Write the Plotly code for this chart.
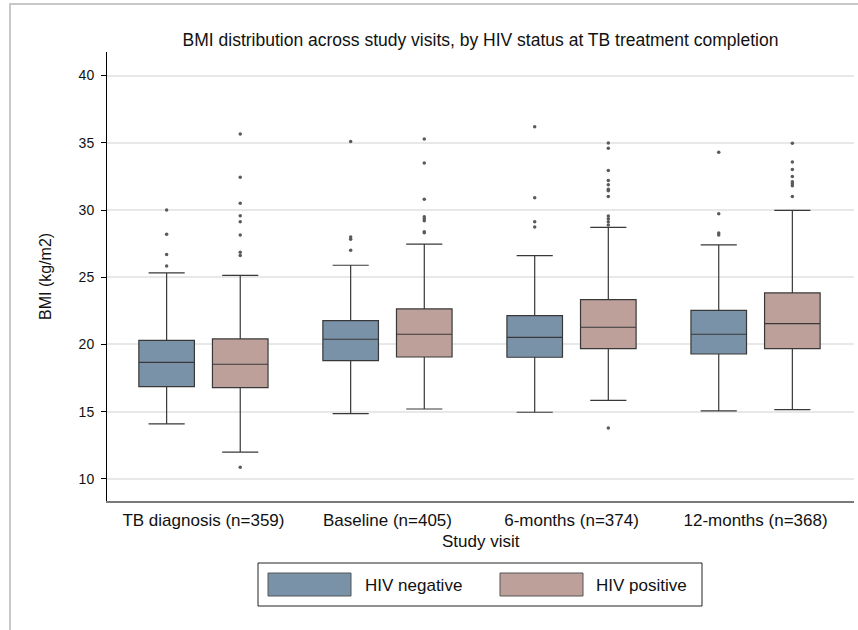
import plotly.graph_objects as go

# Study visits (x categories)
visits = ["TB diagnosis (n=359)", "Baseline (n=405)", "6-months (n=374)", "12-months (n=368)"]

# HIV negative: box summary statistics per visit (BMI, kg/m2)
neg_lower = [14.09, 14.86, 14.96, 15.06]
neg_q1 = [16.86, 18.80, 19.05, 19.29]
neg_median = [18.67, 20.39, 20.53, 20.76]
neg_q3 = [20.31, 21.77, 22.14, 22.54]
neg_upper = [25.32, 25.89, 26.60, 27.40]
neg_outliers = [
    [30.0, 28.19, 26.7, 25.84],
    [35.1, 28.0, 27.82, 27.0],
    [36.2, 30.92, 29.13, 28.74],
    [34.29, 29.73, 28.29, 28.14],
]

# HIV positive: box summary statistics per visit (BMI, kg/m2)
pos_lower = [12.0, 15.2, 15.85, 15.15]
pos_q1 = [16.79, 19.07, 19.69, 19.69]
pos_median = [18.53, 20.76, 21.28, 21.55]
pos_q3 = [20.41, 22.64, 23.34, 23.83]
pos_upper = [25.14, 27.47, 28.71, 29.97]
pos_outliers = [
    [35.65, 32.43, 30.5, 29.58, 29.13, 28.14, 26.86, 26.61, 10.87],
    [35.28, 33.5, 30.8, 29.5, 29.35, 29.2, 28.39, 28.31],
    [34.98, 34.6, 32.94, 32.2, 31.88, 31.54, 31.44, 31.0, 29.55, 29.35, 29.13, 28.88, 13.79],
    [34.96, 33.57, 33.02, 32.5, 32.1, 31.95, 31.8, 31.0],
]

groups = ["HIV negative", "HIV positive"]
colors = ["#7a92a8", "#bea09a"]

y_ticks = [10, 15, 20, 25, 30, 35, 40]

FONT = "Liberation Sans, Arial, Helvetica, sans-serif"
TXT = "#111111"

fig = go.Figure()
stats = [
    (neg_lower, neg_q1, neg_median, neg_q3, neg_upper, neg_outliers),
    (pos_lower, pos_q1, pos_median, pos_q3, pos_upper, pos_outliers),
]
for name, color, (lo, q1, med, q3, hi, outl) in zip(groups, colors, stats):
    fig.add_trace(go.Box(
        name=name,
        x=visits,
        y=outl,
        q1=q1, median=med, q3=q3,
        lowerfence=lo, upperfence=hi,
        boxpoints="outliers",
        jitter=0, pointpos=0,
        fillcolor=color,
        line=dict(color="#383838", width=1.2),
        marker=dict(color="#5a5a5a", size=3.5, symbol="circle",
                    outliercolor="#5a5a5a", line=dict(width=0)),
        whiskerwidth=0.65,
        showlegend=False,
    ))

W, H = 858, 630
ml, mr, mt, mb = 107, 4, 52, 129
pw, ph = W - ml - mr, H - mt - mb


def px(x):
    return (x - ml) / pw


def py(y):
    return (H - mb - y) / ph


shapes = [
    # outer frame
    dict(type="rect", xref="paper", yref="paper",
         x0=px(10), x1=px(880), y0=py(4), y1=py(660),
         line=dict(color="#c8c8c8", width=2), fillcolor="rgba(0,0,0,0)", layer="below"),
    # legend box
    dict(type="rect", xref="paper", yref="paper",
         x0=px(258), x1=px(702), y0=py(563), y1=py(606),
         line=dict(color="#222222", width=1), fillcolor="white"),
]
annotations = []
legend_items = [(268, 351, 363), (500, 583, 594)]
for (sx0, sx1, tx), name, color in zip(legend_items, groups, colors):
    shapes.append(dict(type="rect", xref="paper", yref="paper",
                       x0=px(sx0), x1=px(sx1), y0=py(573), y1=py(596),
                       line=dict(color="#555555", width=1), fillcolor=color))
    annotations.append(dict(xref="paper", yref="paper", x=px(tx), y=py(585),
                            text=name, showarrow=False, xanchor="left", yanchor="middle",
                            font=dict(family=FONT, size=17, color=TXT)))

# y-axis title
annotations.append(dict(xref="paper", yref="paper", x=px(45), y=py(276),
                        text="BMI (kg/m2)", showarrow=False, textangle=-90,
                        xanchor="center", yanchor="middle",
                        font=dict(family=FONT, size=16, color=TXT)))
# x-axis title
annotations.append(dict(xref="paper", yref="paper", x=px(480.5), y=py(541),
                        text="Study visit", showarrow=False,
                        xanchor="center", yanchor="middle",
                        font=dict(family=FONT, size=17, color=TXT)))

fig.update_layout(
    width=W, height=H,
    margin=dict(l=ml, r=mr, t=mt, b=mb),
    paper_bgcolor="white", plot_bgcolor="white",
    boxmode="group", boxgap=0.2, boxgroupgap=0.245,
    font=dict(family=FONT, color=TXT),
    title=dict(text="BMI distribution across study visits, by HIV status at TB treatment completion",
               xref="paper", x=0.5, xanchor="center", y=1 - 40 / H, yanchor="middle",
               font=dict(family=FONT, size=17.5, color=TXT)),
    shapes=shapes,
    annotations=annotations,
    xaxis=dict(
        type="category", range=[-0.524, 3.535],
        showgrid=False, showline=True, linecolor="#7a7a7a", linewidth=1.5,
        ticks="", tickfont=dict(family=FONT, size=17, color=TXT),
        ticklabelstandoff=3,
        zeroline=False,
    ),
    yaxis=dict(
        range=[8.36, 41.75], tickvals=y_ticks,
        showgrid=True, gridcolor="#e8e8e8", gridwidth=1.5,
        showline=True, linecolor="#000000", linewidth=1,
        ticks="outside", ticklen=5, tickcolor="#000000", tickwidth=1,
        tickfont=dict(family=FONT, size=14, color=TXT),
        ticklabelstandoff=4,
        zeroline=False,
    ),
)

fig.write_html("out.html")
